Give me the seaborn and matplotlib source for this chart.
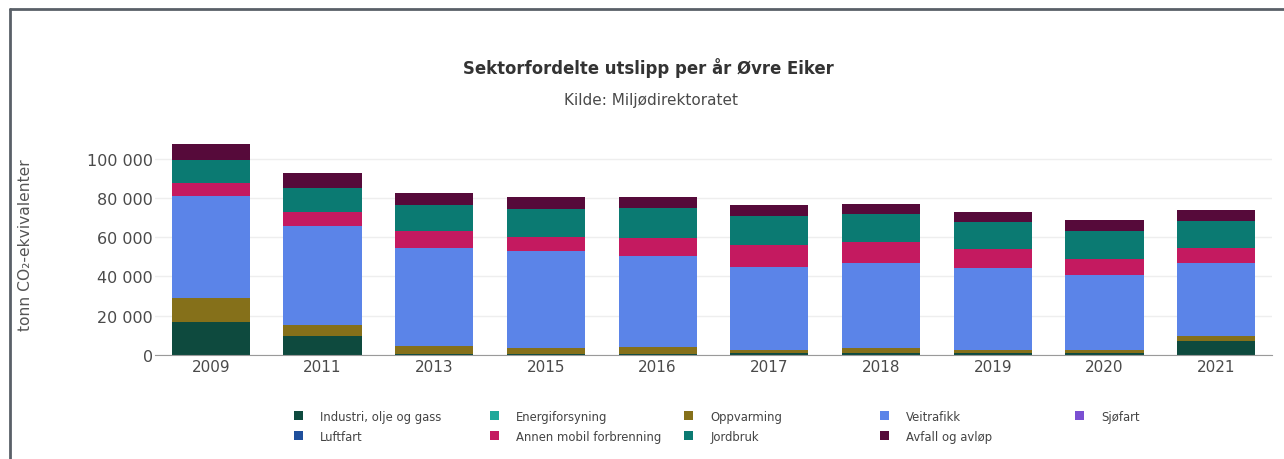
import numpy as np
import pandas as pd
import seaborn as sns
import matplotlib.pyplot as plt
from matplotlib.lines import Line2D
from matplotlib.patches import Patch

# data (tonn CO2-ekvivalenter)
years = ["2009", "2011", "2013", "2015", "2016", "2017", "2018", "2019", "2020", "2021"]
sectors = ["Industri, olje og gass", "Energiforsyning", "Oppvarming", "Veitrafikk", "Sjøfart",
           "Luftfart", "Annen mobil forbrenning", "Jordbruk", "Avfall og avløp"]

industri = [17000, 9800, 400, 300, 300, 1100, 1000, 880, 800, 7230]
energi = [0, 0, 0, 0, 0, 0, 0, 0, 0, 0]
oppvarming = [12000, 5400, 4300, 3050, 3900, 1600, 2600, 1900, 1600, 2340]
veitrafikk = [51800, 50500, 50000, 49400, 46300, 42250, 43250, 41600, 38200, 37350]
sjofart = [0, 0, 0, 0, 0, 0, 0, 0, 0, 0]
luftfart = [0, 0, 0, 0, 0, 0, 0, 0, 0, 0]
annen_mobil = [6800, 7300, 8500, 7480, 9300, 11200, 10700, 9670, 8500, 7640]
jordbruk = [11900, 12200, 13200, 14250, 15100, 14400, 14050, 13750, 14100, 13550]
avfall = [8000, 7600, 6300, 5950, 5600, 5750, 5100, 5100, 5400, 5600]

values = [industri, energi, oppvarming, veitrafikk, sjofart, luftfart, annen_mobil, jordbruk, avfall]
colors = ["#0e4a3e", "#1fa89a", "#85701a", "#5b84e8", "#7a4fd2",
          "#1f4f9c", "#c41a60", "#0b7a72", "#560a3a"]
# stacking order bottom -> top
stack_order = ["Industri, olje og gass", "Energiforsyning", "Oppvarming", "Veitrafikk",
               "Sjøfart", "Luftfart", "Annen mobil forbrenning", "Jordbruk", "Avfall og avløp"]

df = pd.DataFrame({"year": np.repeat([years], len(sectors), axis=0).ravel(),
                   "sector": np.repeat(sectors, len(years)),
                   "value": np.concatenate(values)})

sns.set_style("white")
plt.rcParams["font.family"] = ["DejaVu Sans"]

fig = plt.figure(figsize=(12.84, 4.60), dpi=100)
ax = fig.add_axes([155 / 1284, 1 - 356 / 460, (1272 - 155) / 1284, 216 / 460])

bottom = np.zeros(len(years))
for s in stack_order:
    sub = df[df["sector"] == s]
    sns.barplot(data=sub, x="year", y="value", order=years, color=colors[sectors.index(s)],
                width=0.7, bottom=bottom, ax=ax, saturation=1, linewidth=0, errorbar=None)
    bottom = bottom + sub.set_index("year").loc[years, "value"].to_numpy()

ax.set_ylim(0, 110000)
ax.set_xlim(-0.5, len(years) - 0.5)
ax.set_yticks([0, 20000, 40000, 60000, 80000, 100000])
ax.set_yticklabels(["0", "20 000", "40 000", "60 000", "80 000", "100 000"])
ax.yaxis.grid(True, color="#eeeeee", linewidth=1)
ax.set_axisbelow(True)
for sp in ["top", "right", "left"]:
    ax.spines[sp].set_visible(False)
ax.spines["bottom"].set_color("#9a9a9a")
ax.tick_params(axis="both", length=0, labelcolor="#4a4a4a")
ax.tick_params(axis="x", pad=3, labelsize=11)
ax.tick_params(axis="y", pad=1.5, labelsize=11.5)
ax.set_xlabel("")
ax.set_ylabel("")

fig.text(26 / 1284, 1 - 245 / 460, "tonn CO₂-ekvivalenter", rotation=90, ha="center",
         va="center", fontsize=11.2, color="#555555")
fig.text(648 / 1284, 1 - 68 / 460, "Sektorfordelte utslipp per år Øvre Eiker", ha="center",
         va="center", fontsize=11.9, fontweight="bold", color="#333333")
fig.text(651 / 1284, 1 - 100 / 460, "Kilde: Miljødirektoratet", ha="center", va="center",
         fontsize=11, color="#4a4a4a")

# legend: 5 fixed-width columns like plotly
columns = [["Industri, olje og gass", "Luftfart"],
           ["Energiforsyning", "Annen mobil forbrenning"],
           ["Oppvarming", "Jordbruk"],
           ["Veitrafikk", "Avfall og avløp"],
           ["Sjøfart"]]
col_x = [294, 490, 684, 880, 1075]
for cx, col in zip(col_x, columns):
    handles = [Patch(facecolor=colors[sectors.index(n)], edgecolor="none") for n in col]
    leg = fig.legend(handles, col, loc="upper left", bbox_to_anchor=(cx / 1284, 1 - 411 / 460),
                     frameon=False, fontsize=8.4, handlelength=0.8, handleheight=0.8,
                     handletextpad=1.45, labelspacing=0.6, borderaxespad=0, borderpad=0)
    for t in leg.get_texts():
        t.set_color("#444444")

# outer frame lines (top and left)
fig.add_artist(Line2D([10 / 1284, 1], [1 - 10 / 460, 1 - 10 / 460], color="#5a6068", linewidth=2))
fig.add_artist(Line2D([10 / 1284, 10 / 1284], [0, 1 - 10 / 460], color="#5a6068", linewidth=2))

fig.savefig("out.png", dpi=100)
